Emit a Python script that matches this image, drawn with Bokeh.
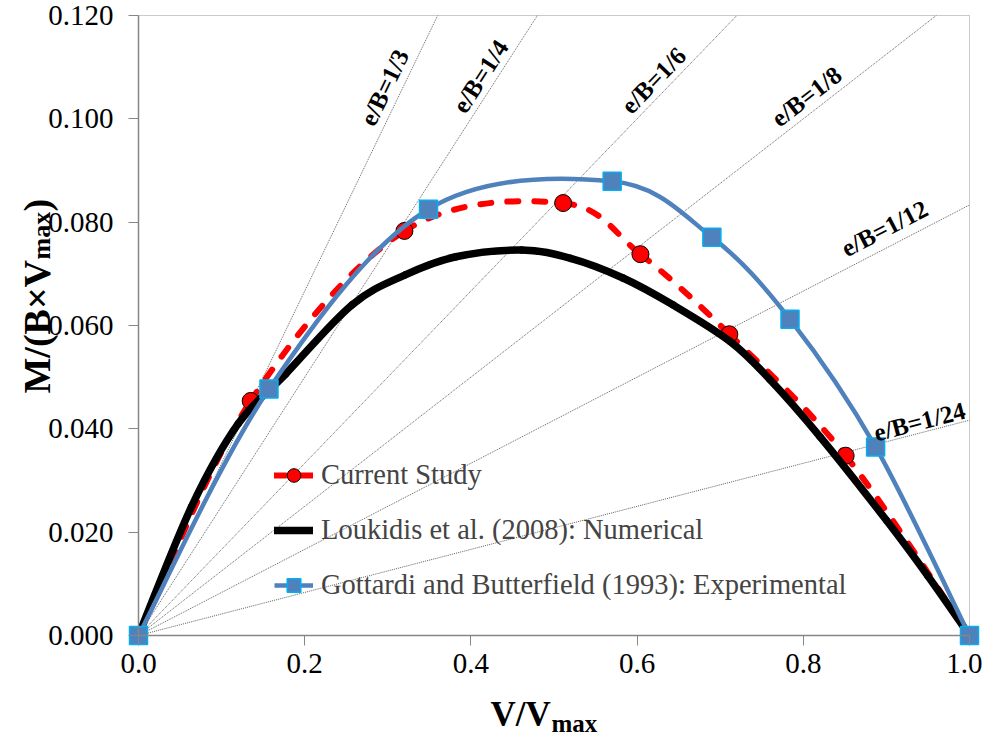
import math
from bokeh.plotting import figure
from bokeh.models import (Range1d, FixedTicker, PrintfTickFormatter, Label,
                          Legend, LegendItem, ColumnDataSource, BoxAnnotation)
from bokeh.embed import file_html
from bokeh.resources import INLINE

# ---------------- data ----------------
current_v = [0.0, 0.135, 0.320, 0.511, 0.604, 0.711, 0.851, 1.0]
current_m = [0.0, 0.0454, 0.0783, 0.0837, 0.0738, 0.0583, 0.0348, 0.0]

loukidis_v = [0.0, 0.064, 0.120, 0.177, 0.257, 0.321, 0.382, 0.461, 0.520,
              0.583, 0.643, 0.712, 0.760, 0.820, 0.900, 0.950, 1.0]
loukidis_m = [0.0, 0.0250, 0.0410, 0.0506, 0.0640, 0.0698, 0.0733, 0.0746, 0.0730,
              0.0692, 0.0640, 0.0569, 0.0495, 0.0385, 0.0223, 0.0115, 0.0]

gottardi_v = [0.0, 0.157, 0.349, 0.570, 0.690, 0.784, 0.887, 1.0]
gottardi_m = [0.0, 0.0477, 0.0825, 0.0879, 0.0771, 0.0612, 0.0365, 0.0]

eb_ratios = [1 / 3, 1 / 4, 1 / 6, 1 / 8, 1 / 12, 1 / 24]
eb_labels = ["e/B=1/3", "e/B=1/4", "e/B=1/6", "e/B=1/8", "e/B=1/12", "e/B=1/24"]

x_ticks = [0.0, 0.2, 0.4, 0.6, 0.8, 1.0]
y_ticks = [0.0, 0.02, 0.04, 0.06, 0.08, 0.10, 0.12]

series_names = ["Current Study",
                "Loukidis et al. (2008): Numerical",
                "Gottardi and Butterfield (1993): Experimental"]

# ---------------- layout constants ----------------
X_MAX, Y_MAX = 1.0, 0.12
CANVAS_W, CANVAS_H = 982, 736
AREA_L, AREA_R, AREA_T, AREA_B = 138, 969, 15, 635   # plot area inside the canvas
AREA_W, AREA_H = AREA_R - AREA_L, AREA_B - AREA_T
PAGE_MARGIN = 8
FONT = "Liberation Serif"


def px2x(px):
    return (px - PAGE_MARGIN - AREA_L) / AREA_W * X_MAX


def py2y(py):
    return (AREA_B - (py - PAGE_MARGIN)) / AREA_H * Y_MAX


def smooth_source(xs, ys, t=1 / 6):
    """Bezier control points (Excel-like smoothed line) between the given points."""
    n = len(xs)
    d = dict(x0=[], y0=[], x1=[], y1=[], cx0=[], cy0=[], cx1=[], cy1=[])
    for i in range(n - 1):
        xp, yp = (xs[i - 1], ys[i - 1]) if i > 0 else (xs[i], ys[i])
        xn, yn = (xs[i + 2], ys[i + 2]) if i + 2 < n else (xs[i + 1], ys[i + 1])
        d["x0"].append(xs[i]); d["y0"].append(ys[i])
        d["x1"].append(xs[i + 1]); d["y1"].append(ys[i + 1])
        d["cx0"].append(xs[i] + (xs[i + 1] - xp) * t)
        d["cy0"].append(ys[i] + (ys[i + 1] - yp) * t)
        d["cx1"].append(xs[i + 1] - (xn - xs[i]) * t)
        d["cy1"].append(ys[i + 1] - (yn - ys[i]) * t)
    return ColumnDataSource(d)


# frame covers the whole canvas; axes are fixed at x=0 / y=0 so that titles are not clipped
x_lo = -AREA_L / AREA_W * X_MAX
x_hi = X_MAX + (CANVAS_W - AREA_R) / AREA_W * X_MAX
y_lo = -(CANVAS_H - AREA_B) / AREA_H * Y_MAX
y_hi = Y_MAX + AREA_T / AREA_H * Y_MAX

p = figure(width=CANVAS_W, height=CANVAS_H, x_range=Range1d(x_lo, x_hi),
           y_range=Range1d(y_lo, y_hi), output_backend="svg", toolbar_location=None,
           min_border=0, min_border_left=0, min_border_right=0,
           min_border_top=0, min_border_bottom=0)
p.background_fill_color = "white"
p.border_fill_color = "white"
p.outline_line_color = None
p.xgrid.visible = False
p.ygrid.visible = False

for ax in (p.xaxis[0], p.yaxis[0]):
    ax.fixed_location = 0
    ax.axis_line_color = "#868686"
    ax.axis_line_width = 1.5
    ax.major_tick_line_color = "#868686"
    ax.major_tick_line_width = 1
    ax.major_tick_out = 10
    ax.major_tick_in = 0
    ax.minor_tick_line_color = None
    ax.major_label_text_font = FONT
    ax.major_label_text_font_size = "29px"
    ax.major_label_text_color = "black"

p.xaxis.bounds = (0, X_MAX)
p.yaxis.bounds = (0, Y_MAX)
p.xaxis.ticker = FixedTicker(ticks=x_ticks)
p.yaxis.ticker = FixedTicker(ticks=y_ticks)
p.xaxis.formatter = PrintfTickFormatter(format="%.1f")
p.yaxis.formatter = PrintfTickFormatter(format="%.3f")
p.xaxis.major_label_standoff = 8
p.yaxis.major_label_standoff = 15

# plot-area border
p.add_layout(BoxAnnotation(left=0, right=X_MAX, bottom=0, top=Y_MAX, fill_color=None,
                           line_color="#505050", line_width=1, level="underlay"))

# ---------------- e/B rays ----------------
ray_x1 = [min(X_MAX, Y_MAX / s) for s in eb_ratios]
ray_y1 = [s * x for s, x in zip(eb_ratios, ray_x1)]
p.segment(x0=[0.0] * len(eb_ratios), y0=[0.0] * len(eb_ratios), x1=ray_x1, y1=ray_y1,
          line_color="#505050", line_width=0.9, line_dash="1 1")

# label centres (page px) for e/B annotations
eb_label_px = [(392, 95), (488, 84), (661, 88), (814, 104), (892, 236), (927, 429)]
for s, txt, (lx, ly) in zip(eb_ratios, eb_labels, eb_label_px):
    ang = math.atan(s * (AREA_H / Y_MAX) / (AREA_W / X_MAX))
    p.add_layout(Label(x=px2x(lx), y=py2y(ly), text=txt, angle=ang,
                       text_font=FONT, text_font_style="bold", text_font_size="25px",
                       text_align="center", text_baseline="middle", text_color="black"))

# ---------------- series ----------------
red_line = p.bezier(x0="x0", y0="y0", x1="x1", y1="y1", cx0="cx0", cy0="cy0",
                    cx1="cx1", cy1="cy1", source=smooth_source(current_v, current_m),
                    line_color="#FF0000", line_width=6, line_dash="11 16", line_cap="round")
red_pts = p.scatter(current_v, current_m, marker="circle", size=17,
                    fill_color="#FF0000", line_color="black", line_width=1)

black_line = p.bezier(x0="x0", y0="y0", x1="x1", y1="y1", cx0="cx0", cy0="cy0",
                      cx1="cx1", cy1="cy1", source=smooth_source(loukidis_v, loukidis_m),
                      line_color="black", line_width=7.5, line_cap="round")

blue_line = p.bezier(x0="x0", y0="y0", x1="x1", y1="y1", cx0="cx0", cy0="cy0",
                     cx1="cx1", cy1="cy1", source=smooth_source(gottardi_v, gottardi_m),
                     line_color="#4F81BD", line_width=4.5)
blue_pts = p.scatter(gottardi_v, gottardi_m, marker="square", size=18,
                     fill_color="#4F81BD", line_color="#00B0F0", line_width=1.5)

legend = Legend(items=[LegendItem(label=series_names[0], renderers=[red_line, red_pts]),
                       LegendItem(label=series_names[1], renderers=[black_line]),
                       LegendItem(label=series_names[2], renderers=[blue_line, blue_pts])],
                location=(274, 134), border_line_alpha=0, background_fill_alpha=0,
                label_text_font=FONT, label_text_font_size="28.5px",
                glyph_width=39, glyph_height=34, label_height=34, spacing=21,
                padding=0, margin=0, label_standoff=8)
p.add_layout(legend)

# ---------------- axis titles (with subscripts) ----------------
title_style = dict(text_font=FONT, text_font_style="bold", text_color="black",
                   text_baseline="alphabetic", text_align="left")
# x title: V/V_max
p.add_layout(Label(x=px2x(498), y=py2y(722), text="V/V", text_font_size="35px", **title_style))
p.add_layout(Label(x=px2x(559), y=py2y(731), text="max", text_font_size="25px", **title_style))
# y title: M/(B×V_max)
ya = math.pi / 2
p.add_layout(Label(x=px2x(44), y=py2y(401), text="M/(B×V", angle=ya,
                   text_font_size="38px", **title_style))
p.add_layout(Label(x=px2x(49), y=py2y(267), text="max", angle=ya,
                   text_font_size="26px", **title_style))
p.add_layout(Label(x=px2x(44), y=py2y(219), text=")", angle=ya,
                   text_font_size="38px", **title_style))

open("out.html", "w").write(file_html(p, INLINE))
